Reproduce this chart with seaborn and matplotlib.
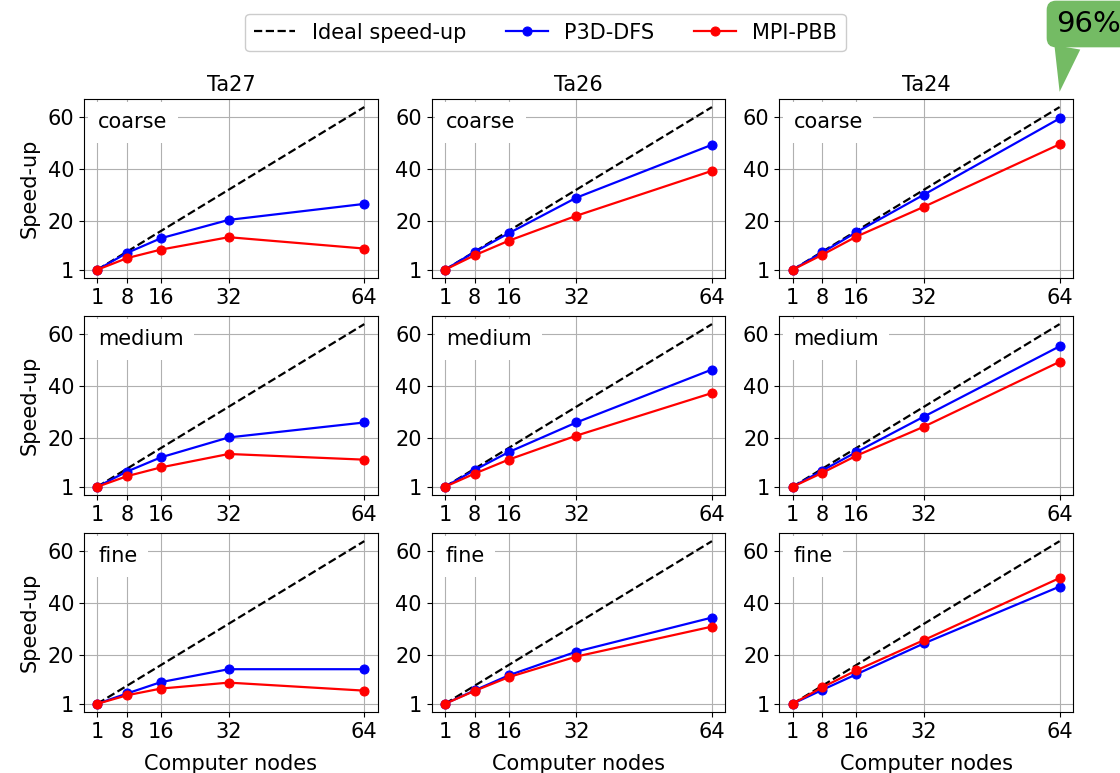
import matplotlib
matplotlib.use("Agg")
import matplotlib.pyplot as plt
import pandas as pd
import seaborn as sns

# ---------------- data ----------------
nodes = [1, 8, 16, 32, 64]
instances = ["Ta27", "Ta26", "Ta24"]
granularities = ["coarse", "medium", "fine"]
ideal = [1, 8, 16, 32, 64]
x_ticks = [1, 8, 16, 32, 64]
y_ticks = [1, 20, 40, 60]

# rows: granularity; inner lists: Ta27, Ta26, Ta24
p3d_coarse = [[1, 7.5, 13.2, 20.3, 26.5], [1, 7.9, 15.1, 28.9, 49.4], [1, 7.7, 15.5, 30.1, 59.6]]
mpi_coarse = [[1, 5.5, 8.8, 13.6, 9.2], [1, 6.6, 12.2, 21.9, 39.3], [1, 6.8, 13.8, 25.4, 49.6]]
p3d_medium = [[1, 6.9, 12.4, 20.1, 25.9], [1, 7.5, 14.4, 25.9, 46.4], [1, 7.3, 14.4, 28.2, 55.4]]
mpi_medium = [[1, 5.1, 8.5, 13.7, 11.5], [1, 6.1, 11.5, 20.8, 37.3], [1, 6.4, 13.0, 24.3, 49.4]]
p3d_fine = [[1, 5.0, 9.4, 14.4, 14.4], [1, 6.2, 12.0, 21.2, 34.4], [1, 6.4, 12.4, 24.4, 46.4]]
mpi_fine = [[1, 4.3, 6.9, 9.2, 6.1], [1, 6.0, 11.3, 19.3, 30.9], [1, 7.4, 13.9, 25.7, 49.7]]

p3d_all = [p3d_coarse, p3d_medium, p3d_fine]
mpi_all = [mpi_coarse, mpi_medium, mpi_fine]
callout_text = "96%"

# ---------------- figure ----------------
plt.rcParams["font.family"] = ["DejaVu Sans"]
FS = 15
fig, axes = plt.subplots(3, 3, figsize=(11.2, 7.73), dpi=100)
fig.subplots_adjust(left=0.075, right=0.958, top=0.872, bottom=0.079,
                    wspace=0.184, hspace=0.213)

for r, gran in enumerate(granularities):
    for c, inst in enumerate(instances):
        ax = axes[r, c]
        df_ideal = pd.DataFrame({"nodes": nodes, "speedup": ideal})
        df_p3d = pd.DataFrame({"nodes": nodes, "speedup": p3d_all[r][c]})
        df_mpi = pd.DataFrame({"nodes": nodes, "speedup": mpi_all[r][c]})
        sns.lineplot(data=df_ideal, x="nodes", y="speedup", ax=ax, color="black",
                     linestyle="--", linewidth=1.6, label="Ideal speed-up")
        sns.lineplot(data=df_p3d, x="nodes", y="speedup", ax=ax, color="blue",
                     marker="o", markersize=6.5, markeredgecolor="blue",
                     linewidth=1.6, label="P3D-DFS")
        sns.lineplot(data=df_mpi, x="nodes", y="speedup", ax=ax, color="red",
                     marker="o", markersize=6.5, markeredgecolor="red",
                     linewidth=1.6, label="MPI-PBB")
        ax.set_xticks(x_ticks)
        ax.set_yticks(y_ticks)
        ax.tick_params(labelsize=FS)
        ax.grid(True, color="#b0b0b0", linewidth=0.8)
        ax.set_axisbelow(True)
        ax.text(0.048, 0.87, gran, transform=ax.transAxes, fontsize=FS,
                ha="left", va="center",
                bbox=dict(boxstyle="square,pad=0.5", fc="white", ec="none"))
        if r == 0:
            ax.set_title(inst, fontsize=FS)
        if c == 0:
            ax.set_ylabel("Speed-up", fontsize=FS, labelpad=6)
        else:
            ax.set_ylabel("")
        if r == 2:
            ax.set_xlabel("Computer nodes", fontsize=FS, labelpad=9)
        else:
            ax.set_xlabel("")

handles, labels = axes[0, 0].get_legend_handles_labels()
for ax in axes.flat:
    lg = ax.get_legend()
    if lg is not None:
        lg.remove()

fig.legend(handles, labels, loc="upper center", bbox_to_anchor=(0.487, 0.995),
           ncol=3, fontsize=FS, handlelength=2.0, columnspacing=1.9,
           handletextpad=0.8, frameon=True, framealpha=1, edgecolor="#cccccc")

# callout annotation pointing at the Ta24 coarse 64-node point
green = "#74bb64"
ax = axes[0, 2]
ax.annotate(callout_text, xy=(64, 1.04), xycoords=("data", "axes fraction"),
            xytext=(1056, 749), textcoords="figure pixels",
            fontsize=21, ha="left", va="center", annotation_clip=False,
            bbox=dict(boxstyle="round,pad=0.32", fc=green, ec="none"),
            arrowprops=dict(arrowstyle="wedge,tail_width=0.9", fc=green, ec="none",
                            relpos=(0.2, 0.0), shrinkA=0, shrinkB=0))

fig.savefig("out.png", dpi=100)
